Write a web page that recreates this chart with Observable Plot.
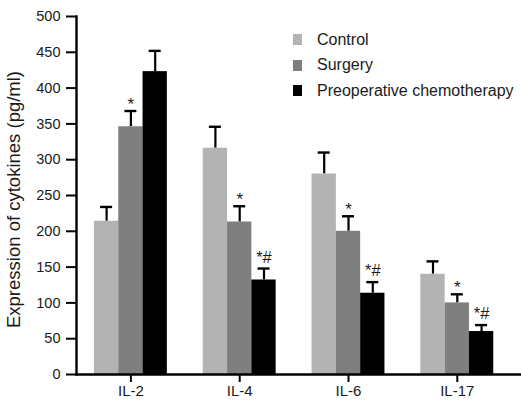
<!DOCTYPE html>
<html>
<head>
<meta charset="utf-8">
<script src="https://cdn.jsdelivr.net/npm/d3@7"></script>
<script src="https://cdn.jsdelivr.net/npm/@observablehq/plot@0.6"></script>
<style>
  html, body { margin: 0; padding: 0; background: #fff; }
  #wrap { position: relative; width: 521px; height: 402px; font-family: "Liberation Sans", Arial, sans-serif; }
  #legend { position: absolute; left: 293px; top: 27px; font-size: 16px; color: #1a1a1a; }
  #legend .row { display: flex; align-items: center; height: 25.5px; }
  #legend .sw { width: 9px; height: 11px; margin-right: 15px; }
</style>
</head>
<body>
<div id="wrap"><div id="legend"></div></div>
<script>
const categories = ["IL-2", "IL-4", "IL-6", "IL-17"];
const groups = ["Control", "Surgery", "Preoperative chemotherapy"];
const colors = ["#b3b3b3", "#7f7f7f", "#000000"];
const control = [214, 316, 280, 140];
const controlErr = [20, 30, 30, 18];
const surgery = [346, 213, 200, 100];
const surgeryErr = [22, 22, 21, 12];
const chemo = [423, 132, 113.5, 60];
const chemoErr = [29, 16, 15.5, 9];
const controlMarks = ["", "", "", ""];
const surgeryMarks = ["*", "*", "*", "*"];
const chemoMarks = ["", "*#", "*#", "*#"];
const yTicks = [0, 50, 100, 150, 200, 250, 300, 350, 400, 450, 500];
const yLabel = "Expression of cytokines (pg/ml)";

const series = [control, surgery, chemo];
const errs = [controlErr, surgeryErr, chemoErr];
const marksTxt = [controlMarks, surgeryMarks, chemoMarks];
const data = [];
groups.forEach((g, j) => categories.forEach((c, i) => {
  data.push({cat: c, group: g, gi: j, value: series[j][i], top: series[j][i] + errs[j][i], mark: marksTxt[j][i]});
}));

const xRange = [76, 511.2];
const bw = (xRange[1] - xRange[0]) / categories.length;
const barW = 24.3;
const capW = 12;

const marks = [];
groups.forEach((g, j) => {
  const off = (j - 1) * barW;           // center offset of this group's bar
  const rows = data.filter(d => d.gi === j);
  const inL = bw / 2 + off - barW / 2;
  const inR = bw - inL - barW;
  marks.push(Plot.ruleX(rows, {x: "cat", y1: "value", y2: "top", dx: off, stroke: "#000", strokeWidth: 2.2}));
  marks.push(Plot.tickY(rows, {x: "cat", y: "top", insetLeft: bw / 2 + off - capW / 2, insetRight: bw / 2 - off - capW / 2, stroke: "#000", strokeWidth: 2.4}));
  marks.push(Plot.barY(rows, {x: "cat", y: "value", fill: colors[j], insetLeft: inL, insetRight: inR}));
  marks.push(Plot.text(rows.filter(d => d.mark === "*"), {x: "cat", y: "top", text: "mark", dx: off, dy: -1, lineAnchor: "bottom", fontSize: 17, fill: "#1a1a1a"}));
  marks.push(Plot.text(rows.filter(d => d.mark === "*#"), {x: "cat", y: "top", text: "mark", dx: off, dy: -6, lineAnchor: "bottom", fontSize: 16.5, fill: "#1a1a1a"}));
});

const chart = Plot.plot({
  width: 521,
  height: 402,
  marginLeft: 76,
  marginRight: 0,
  marginTop: 16,
  marginBottom: 28,
  style: {fontFamily: "'Liberation Sans', Arial, sans-serif", color: "#1a1a1a", background: "transparent", fontSize: "14px"},
  x: {domain: categories, range: xRange, padding: 0, round: false},
  y: {domain: [0, 500]},
  marks: [
    ...marks,
    Plot.axisY({ticks: yTicks, tickSize: 10, tickPadding: 6, fontSize: 14.5, strokeWidth: 2, stroke: "#000", fill: "#1a1a1a", label: null}),
    Plot.axisX({tickSize: 8, tickPadding: 3, fontSize: 15, strokeWidth: 2, stroke: "#000", fill: "#1a1a1a", label: null}),
    Plot.frame({anchor: "left", stroke: "#000", strokeWidth: 2.4}),
    Plot.frame({anchor: "bottom", stroke: "#000", strokeWidth: 2.4}),
    Plot.text([yLabel], {frameAnchor: "left", textAnchor: "middle", rotate: -90, dx: -62, dy: 4, fontSize: 18.5, fill: "#1a1a1a"})
  ]
});
document.getElementById("wrap").prepend(chart);

const legend = document.getElementById("legend");
groups.forEach((g, j) => {
  const row = document.createElement("div");
  row.className = "row";
  const sw = document.createElement("div");
  sw.className = "sw";
  sw.style.background = colors[j];
  const t = document.createElement("span");
  t.textContent = g;
  row.append(sw, t);
  legend.append(row);
});
</script>
</body>
</html>
